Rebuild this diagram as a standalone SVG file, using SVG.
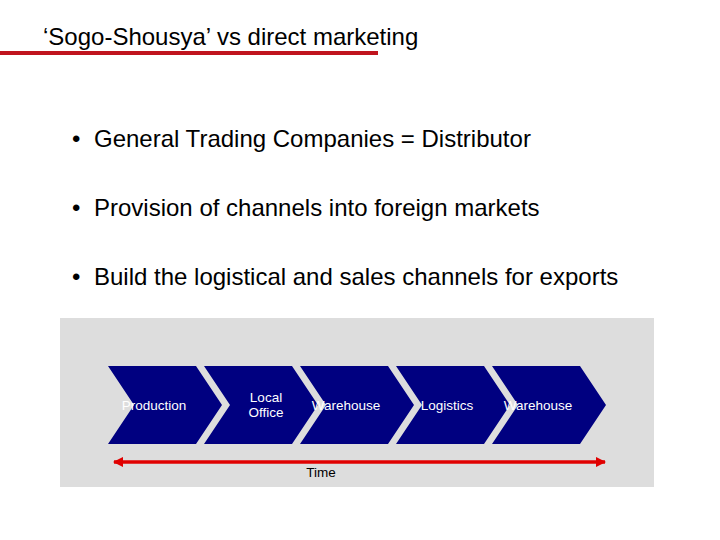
<svg xmlns="http://www.w3.org/2000/svg" width="720" height="540" viewBox="0 0 720 540">
<defs>
<style>
.title{font-family:"Liberation Sans",Arial,sans-serif;font-size:24px;fill:#000}
.bullet{font-family:"Liberation Sans",Arial,sans-serif;font-size:24px;fill:#000}
.chev{fill:#000080}
.lbl{font-family:"Liberation Sans",Arial,sans-serif;font-size:13.5px;fill:#fff;text-anchor:middle}
.time{font-family:"Liberation Sans",Arial,sans-serif;font-size:13.5px;fill:#000;text-anchor:middle}
</style>
<marker id="ah" viewBox="0 0 10 10" refX="9" refY="5" markerWidth="3" markerHeight="3" orient="auto-start-reverse" markerUnits="strokeWidth">
<path d="M0,0 L10,5 L0,10 z" fill="#e00000"/>
</marker>
</defs>
<rect width="720" height="540" fill="#fff"/>
<g id="title">
<text class="title" x="43" y="45">‘Sogo-Shousya’ vs direct marketing</text>
<rect x="0" y="51" width="378" height="4" fill="#c0141e"/>
</g>
<g id="bullets">
<text class="bullet" x="72" y="147">•</text><text class="bullet" x="94" y="147">General Trading Companies = Distributor</text>
<text class="bullet" x="72" y="216">•</text><text class="bullet" x="94" y="216">Provision of channels into foreign markets</text>
<text class="bullet" x="72" y="285">•</text><text class="bullet" x="94" y="285">Build the logistical and sales channels for exports</text>
</g>
<rect id="panel" x="60" y="318" width="594" height="169" fill="#dddddd"/>
<g id="n1"><polygon class="chev" points="108,366 196,366 222,405 196,444 108,444 134,405"/><text class="lbl" x="154" y="410">Production</text></g>
<g id="n2"><polygon class="chev" points="204,366 292,366 318,405 292,444 204,444 230,405"/><text class="lbl" x="266" y="402">Local</text><text class="lbl" x="266" y="417">Office</text></g>
<g id="n3"><polygon class="chev" points="300,366 388,366 414,405 388,444 300,444 326,405"/><text class="lbl" x="346" y="410">Warehouse</text></g>
<g id="n4"><polygon class="chev" points="396,366 484,366 510,405 484,444 396,444 422,405"/><text class="lbl" x="447" y="410">Logistics</text></g>
<g id="n5"><polygon class="chev" points="492,366 580,366 606,405 580,444 492,444 518,405"/><text class="lbl" x="538" y="410">Warehouse</text></g>
<g id="connectors">
<line x1="114" y1="462" x2="605" y2="462" stroke="#e00000" stroke-width="3.5" marker-start="url(#ah)" marker-end="url(#ah)"/>
<text class="time" x="321" y="477">Time</text>
</g>
</svg>
